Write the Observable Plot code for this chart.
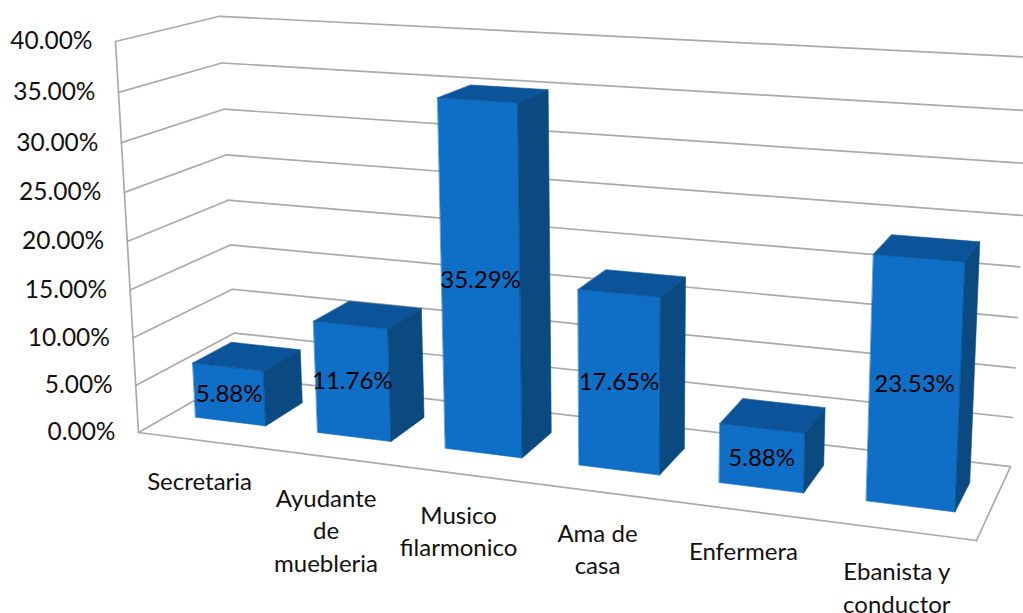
<!DOCTYPE html>
<html>
<head>
<meta charset="utf-8">
<style>html,body{margin:0;padding:0;background:#fff;overflow:hidden}svg{display:block}</style>
<script src="https://cdn.jsdelivr.net/npm/d3@7"></script>
<script src="https://cdn.jsdelivr.net/npm/@observablehq/plot@0.6"></script>
</head>
<body>
<div id="chart"></div>
<script>
const categories = ["Secretaria", "Ayudante\nde\nmuebleria", "Musico\nfilarmonico", "Ama de\ncasa", "Enfermera", "Ebanista y\nconductor"];
const barValues = [5.88, 11.76, 35.29, 17.65, 5.88, 23.53];
const barLabels = ["5.88%", "11.76%", "35.29%", "17.65%", "5.88%", "23.53%"];
const tickValues = [0, 5, 10, 15, 20, 25, 30, 35, 40];
const tickLabels = ["0.00%", "5.00%", "10.00%", "15.00%", "20.00%", "25.00%", "30.00%", "35.00%", "40.00%"];

// The 3D box of the chart, as a projective camera: model (u across, v in depth, w up) to screen.
const O = [138, 432], X = [976, 540], Y = [236, 376], Z = [115, 41];
const a = 0.865, b = 1.0886, c = 0.955;
const yMax = 40, barFront = 0.31, barBack = 0.71, barShare = 0.58;
function project(u, v, value) {
  const w = value / yMax;
  const den = 1 + (a - 1) * u + (b - 1) * v + (c - 1) * w;
  const at = k => (O[k] + u * (a * X[k] - O[k]) + v * (b * Y[k] - O[k]) + w * (c * Z[k] - O[k])) / den;
  return [at(0), at(1)];
}
const pt = (id, u, v, value) => { const [px, py] = project(u, v, value); return {id, px, py}; };

// Wall and floor rules
const rules = [];
tickValues.forEach(t => {
  rules.push(pt("l" + t, 0, 0, t), pt("l" + t, 0, 1, t));
  rules.push(pt("b" + t, 0, 1, t), pt("b" + t, 1, 1, t));
});
[[0, 0, 1, 0], [1, 0, 1, 1]].forEach(([u0, v0, u1, v1], i) => {
  rules.push(pt("f" + i, u0, v0, 0), pt("f" + i, u1, v1, 0));
});
rules.push(pt("axis", 0, 0, 0), pt("axis", 0, 0, yMax));

// Bar faces
const slot = 1 / categories.length;
const bounds = i => {
  const mid = (i + 0.5) * slot, half = slot * barShare / 2;
  return [mid - half, mid + half, mid];
};
const frontFaces = [], topFaces = [], sideFaces = [];
barValues.forEach((val, i) => {
  const [u0, u1] = bounds(i);
  [[u0, barFront, 0], [u1, barFront, 0], [u1, barFront, val], [u0, barFront, val]]
    .forEach(p => frontFaces.push(pt(i, ...p)));
  [[u0, barFront, val], [u1, barFront, val], [u1, barBack, val], [u0, barBack, val]]
    .forEach(p => topFaces.push(pt(i, ...p)));
  [[u1, barFront, 0], [u1, barBack, 0], [u1, barBack, val], [u1, barFront, val]]
    .forEach(p => sideFaces.push(pt(i, ...p)));
});

const tickRows = tickValues.map((t, i) => ({...pt(i, 0, 0, t), label: tickLabels[i]}));
const catRows = categories.map((label, i) => ({...pt(i, bounds(i)[2], 0, 0), label}));
const valueRows = barValues.map((val, i) => ({...pt(i, bounds(i)[2], barFront, val / 2), label: barLabels[i]}));

const face = (rows, fill) => Plot.line(rows, {x: "px", y: "py", z: "id", fill, stroke: fill, strokeWidth: 0.6, curve: "linear-closed"});

const chart = Plot.plot({
  width: 1023, height: 613,
  marginTop: 0, marginRight: 0, marginBottom: 0, marginLeft: 0,
  x: {domain: [0, 1023], range: [0, 1023], axis: null},
  y: {domain: [0, 613], range: [0, 613], axis: null},
  style: {fontFamily: "Lato", background: "#fff", color: "#000"},
  marks: [
    Plot.line(rules, {x: "px", y: "py", z: "id", stroke: "#aaaaaa", strokeWidth: 1.7, curve: "linear"}),
    face(frontFaces, "#0f6fc6"),
    face(topFaces, "#0c5499"),
    face(sideFaces, "#0a4a80"),
    Plot.text(tickRows, {x: "px", y: "py", text: "label", textAnchor: "end", dx: -23, fontSize: 24.5, fill: "#111"}),
    Plot.text(catRows, {x: "px", y: "py", text: "label", textAnchor: "middle", lineAnchor: "top", dy: 26.5, fontSize: 24, lineHeight: 1.37, fill: "#111"}),
    Plot.text(valueRows, {x: "px", y: "py", text: "label", textAnchor: "middle", fontSize: 24, fill: "#000"})
  ]
});
document.getElementById("chart").appendChild(chart);
</script>
</body>
</html>
